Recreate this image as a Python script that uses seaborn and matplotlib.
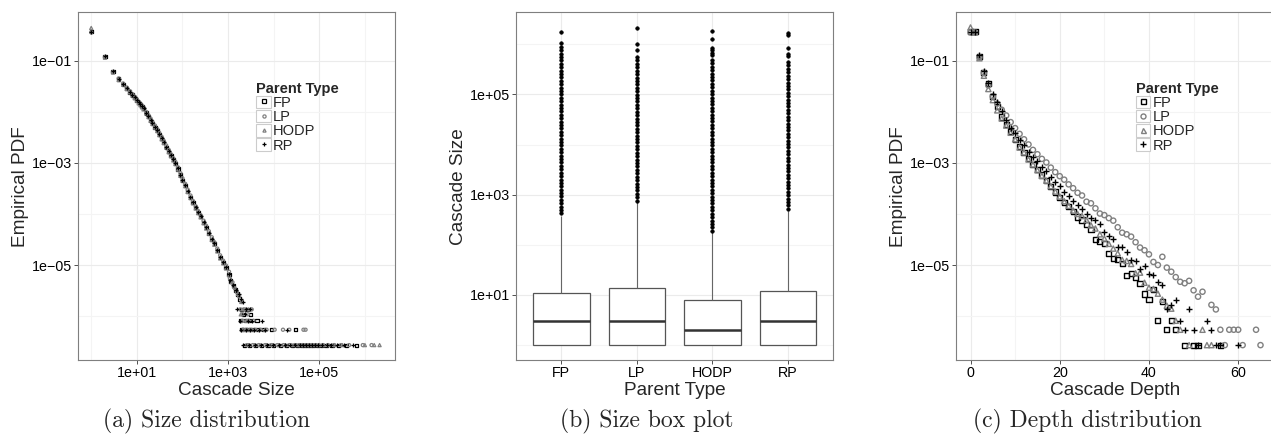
import numpy as np
import pandas as pd
import seaborn as sns
import matplotlib.pyplot as plt
from matplotlib.lines import Line2D
from matplotlib.patches import Rectangle
from matplotlib.legend_handler import HandlerLine2D
from matplotlib.ticker import FixedLocator, FuncFormatter, NullFormatter

parent_types = ["FP", "LP", "HODP", "RP"]
n_cascades = 3.7e6

# ---------------- (a) size distribution ----------------
size_body = [1, 2, 3, 4, 5, 6, 7, 8, 9, 10, 11, 12, 13, 14, 16, 18, 20, 22, 25, 28,
             31, 35, 39, 44, 50, 56, 63, 70, 80, 90, 100, 115, 130, 150, 170, 195, 220, 250,
             290, 330, 380, 440, 500, 580, 670, 780, 900, 1050]
fp_size_pdf = [3.7e-1, 1.23e-1, 6.2e-2, 4.4e-2, 3.5e-2, 2.9e-2, 2.45e-2, 2.14e-2, 1.9e-2, 1.7e-2,
               1.5e-2, 1.38e-2, 1.26e-2, 1.15e-2, 9.5e-3, 8.1e-3, 6.9e-3, 6.0e-3, 5.0e-3, 4.3e-3,
               3.6e-3, 3.0e-3, 2.5e-3, 2.04e-3, 1.66e-3, 1.38e-3, 1.15e-3, 9.8e-4, 7.6e-4, 5.8e-4,
               4.6e-4, 3.6e-4, 2.8e-4, 2.1e-4, 1.66e-4, 1.32e-4, 1.07e-4, 8.9e-5, 6.8e-5, 5.4e-5,
               4.2e-5, 3.2e-5, 2.6e-5, 1.9e-5, 1.4e-5, 1.12e-5, 8.9e-6, 6.6e-6]
lp_size_pdf = [3.6e-1, 1.18e-1, 6.0e-2, 4.5e-2, 3.6e-2, 3.0e-2, 2.55e-2, 2.22e-2, 1.97e-2, 1.77e-2,
               1.58e-2, 1.45e-2, 1.32e-2, 1.21e-2, 1.0e-2, 8.6e-3, 7.4e-3, 6.4e-3, 5.4e-3, 4.6e-3,
               3.9e-3, 3.25e-3, 2.7e-3, 2.2e-3, 1.8e-3, 1.48e-3, 1.23e-3, 1.05e-3, 8.2e-4, 6.3e-4,
               5.0e-4, 3.9e-4, 3.0e-4, 2.3e-4, 1.8e-4, 1.42e-4, 1.15e-4, 9.5e-5, 7.4e-5, 5.9e-5,
               4.6e-5, 3.5e-5, 2.8e-5, 2.1e-5, 1.55e-5, 1.22e-5, 9.8e-6, 7.4e-6]
hodp_size_pdf = [4.4e-1, 1.15e-1, 5.9e-2, 4.2e-2, 3.4e-2, 2.8e-2, 2.4e-2, 2.08e-2, 1.85e-2, 1.66e-2,
                 1.47e-2, 1.35e-2, 1.23e-2, 1.12e-2, 9.3e-3, 7.9e-3, 6.7e-3, 5.8e-3, 4.9e-3, 4.2e-3,
                 3.5e-3, 2.9e-3, 2.45e-3, 2.0e-3, 1.62e-3, 1.35e-3, 1.12e-3, 9.5e-4, 7.4e-4, 5.6e-4,
                 4.5e-4, 3.5e-4, 2.7e-4, 2.05e-4, 1.62e-4, 1.28e-4, 1.04e-4, 8.6e-5, 6.6e-5, 5.2e-5,
                 4.1e-5, 3.1e-5, 2.5e-5, 1.85e-5, 1.35e-5, 1.08e-5, 8.6e-6, 6.3e-6]
rp_size_pdf = [3.6e-1, 1.25e-1, 6.3e-2, 4.45e-2, 3.55e-2, 2.95e-2, 2.5e-2, 2.17e-2, 1.93e-2, 1.72e-2,
               1.53e-2, 1.4e-2, 1.28e-2, 1.17e-2, 9.7e-3, 8.3e-3, 7.0e-3, 6.1e-3, 5.1e-3, 4.4e-3,
               3.7e-3, 3.1e-3, 2.55e-3, 2.08e-3, 1.7e-3, 1.4e-3, 1.17e-3, 1.0e-3, 7.8e-4, 5.9e-4,
               4.7e-4, 3.7e-4, 2.85e-4, 2.15e-4, 1.7e-4, 1.35e-4, 1.09e-4, 9.1e-5, 7.0e-5, 5.5e-5,
               4.3e-5, 3.3e-5, 2.65e-5, 1.95e-5, 1.45e-5, 1.15e-5, 9.1e-6, 6.8e-6]

# sparse tail: cascade sizes seen only a handful of times (counts out of n_cascades)
fp_tail_size = [1150, 1300, 1450, 1600, 1800, 2000, 2600, 2200, 3100, 1900, 2400, 3000, 4300,
                1950, 2300, 2800, 3500, 4500, 6000, 9000, 30000,
                2300, 3000, 4000, 5500, 7500, 10000, 14000, 19000, 26000, 33000, 40000, 48000,
                56000, 65000, 76000, 90000, 110000, 140000, 190000, 260000, 400000, 650000]
fp_tail_count = [18, 15, 12, 10, 8, 5, 5, 4, 4, 3, 3, 3, 3,
                 2, 2, 2, 2, 2, 2, 2, 2,
                 1, 1, 1, 1, 1, 1, 1, 1, 1, 1, 1, 1, 1, 1, 1, 1, 1, 1, 1, 1, 1, 1]
lp_tail_size = [1100, 1250, 1400, 1550, 1750, 2000, 1850, 2300, 3300, 2050, 2700, 2100, 2800, 3600,
                2150, 2600, 3200, 4000, 5200, 7000, 10500, 16000, 22000, 45000, 50000,
                2600, 3500, 4700, 6500, 8800, 12000, 16500, 22000, 29000, 36000, 43000, 51000,
                60000, 70000, 82000, 98000, 120000, 155000, 210000, 300000, 450000, 900000, 1400000]
lp_tail_count = [20, 17, 13, 11, 9, 7, 5, 5, 5, 4, 4, 3, 3, 3,
                 2, 2, 2, 2, 2, 2, 2, 2, 2, 2, 2,
                 1, 1, 1, 1, 1, 1, 1, 1, 1, 1, 1, 1, 1, 1, 1, 1, 1, 1, 1, 1, 1, 1, 1]
hodp_tail_size = [1200, 1350, 1650, 1950, 2150, 2800, 1900, 2000, 2500,
                  2050, 2450, 3000, 3800, 5000, 6500,
                  2800, 3800, 5000, 7000, 9500, 13000, 18000, 25000, 32000, 39000, 46000, 54000,
                  62000, 72000, 86000, 100000, 125000, 160000, 220000, 320000, 1000000, 1600000, 2100000]
hodp_tail_count = [17, 14, 10, 7, 5, 5, 4, 3, 3,
                   2, 2, 2, 2, 2, 2,
                   1, 1, 1, 1, 1, 1, 1, 1, 1, 1, 1, 1, 1, 1, 1, 1, 1, 1, 1, 1, 1, 1, 1]
rp_tail_size = [1100, 1300, 1500, 1700, 1900, 2100, 1550, 2500, 3000, 2400, 1850, 2700, 3400, 5500,
                1900, 2500, 3100, 3700, 4800, 6500, 20000,
                2100, 2900, 3900, 5200, 7000, 9500, 13000, 17500, 23000, 30000, 37000, 44000,
                52000, 60000, 70000, 80000, 95000, 115000, 145000, 180000, 240000, 350000, 550000]
rp_tail_count = [19, 15, 12, 10, 8, 7, 5, 5, 5, 4, 3, 3, 3, 3,
                 2, 2, 2, 2, 2, 2, 2,
                 1, 1, 1, 1, 1, 1, 1, 1, 1, 1, 1, 1, 1, 1, 1, 1, 1, 1, 1, 1, 1, 1, 1]

# ---------------- (b) size box plot ----------------
# bulk of each group as a frequency table, plus the outlying cascade sizes
fp_box_values = [1, 2, 3, 5, 8, 11, 30, 100, 376]
fp_box_counts = [150, 30, 40, 40, 30, 24, 20, 12, 2]
lp_box_values = [1, 2, 3, 5, 8, 14, 40, 150, 700]
lp_box_counts = [150, 30, 40, 40, 30, 24, 20, 18, 2]
hodp_box_values = [1, 2, 3, 5, 8, 25, 80, 176]
hodp_box_counts = [150, 60, 30, 50, 24, 20, 7, 2]
rp_box_values = [1, 2, 3, 5, 8, 12, 35, 120, 480]
rp_box_counts = [150, 30, 40, 40, 30, 24, 20, 15, 2]

fp_outliers = [430, 500, 580, 680, 790, 920, 1080, 1260, 1470, 1720, 2000, 2350, 2750, 3200, 3750,
               4400, 5100, 6000, 7000, 8200, 9600, 11200, 13100, 15300, 17900, 21000, 24500, 28700,
               33500, 39200, 45800, 53600, 62700, 73300, 85700, 100200, 117000, 137000, 160000,
               187000, 219000, 256000, 300000, 351000, 410000, 480000, 561000, 656000, 767000,
               897000, 1050000, 1740000]
lp_outliers = [760, 890, 1040, 1220, 1430, 1670, 1960, 2290, 2680, 3140, 3670, 4300, 5030, 5890,
               6890, 8060, 9430, 11000, 12900, 15100, 17700, 20700, 24200, 28300, 33100, 38800,
               45400, 53100, 62100, 72700, 85000, 99500, 116000, 136000, 159000, 186000, 218000,
               255000, 299000, 350000, 410000, 480000, 550000, 760000, 1020000, 2100000]
hodp_outliers = [190, 222, 260, 304, 356, 416, 487, 570, 667, 780, 913, 1070, 1250, 1460, 1710,
                 2000, 2340, 2740, 3210, 3750, 4390, 5140, 6010, 7030, 8230, 9630, 11300, 13200,
                 15400, 18000, 21100, 24700, 28900, 33800, 39600, 46300, 54200, 63400, 74200,
                 86800, 102000, 119000, 139000, 163000, 191000, 223000, 261000, 305000, 357000,
                 418000, 489000, 600000, 660000, 760000, 850000, 1300000, 1860000]
rp_outliers = [520, 610, 710, 830, 970, 1140, 1330, 1560, 1820, 2130, 2490, 2920, 3410, 3990, 4670,
               5470, 6400, 7490, 8760, 10200, 12000, 14000, 16400, 19200, 22500, 26300, 30800,
               36000, 42100, 49300, 57700, 67500, 79000, 92400, 108000, 126000, 148000, 173000,
               203000, 237000, 277000, 325000, 380000, 440000, 580000, 650000, 850000, 1550000,
               1700000]

# ---------------- (c) depth distribution ----------------
fp_depth = [0, 1, 2, 3, 4, 5, 6, 7, 8, 9, 10, 11, 12, 13, 14, 15, 16, 17, 18, 19, 20, 21, 22, 23,
            24, 25, 26, 27, 28, 29, 30, 31, 32, 33, 34, 35, 36, 37, 38, 39, 40, 41, 42, 43, 44,
            45, 46, 48, 50, 51, 56]
fp_depth_pdf = [3.7e-1, 3.7e-1, 1.2e-1, 6.0e-2, 3.6e-2, 2.0e-2, 1.26e-2, 7.9e-3, 5.6e-3, 4.1e-3,
                2.9e-3, 2.1e-3, 1.6e-3, 1.2e-3, 9.3e-4, 7.4e-4, 5.8e-4, 4.6e-4, 3.4e-4, 2.7e-4,
                2.1e-4, 1.7e-4, 1.4e-4, 1.1e-4, 8.7e-5, 7.6e-5, 6.3e-5, 4.9e-5, 3.2e-5, 2.9e-5,
                2.6e-5, 1.7e-5, 1.32e-5, 1.29e-5, 1.07e-5, 6.2e-6, 6.9e-6, 5.6e-6, 4.4e-6, 2.7e-6,
                2.1e-6, 3.3e-6, 8.1e-7, 1.9e-6, 5.4e-7, 8.1e-7, 5.4e-7, 2.7e-7, 2.7e-7, 2.7e-7, 2.7e-7]
lp_depth = [0, 1, 2, 3, 4, 5, 6, 7, 8, 9, 10, 11, 12, 13, 14, 15, 16, 17, 18, 19, 20, 21, 22, 23,
            24, 25, 26, 27, 28, 29, 30, 31, 32, 33, 34, 35, 36, 37, 38, 39, 40, 41, 42, 43, 44,
            45, 46, 47, 48, 49, 50, 51, 52, 54, 55, 56, 57, 58, 59, 60, 61, 64, 65]
lp_depth_pdf = [3.6e-1, 3.6e-1, 1.17e-1, 5.8e-2, 3.3e-2, 2.0e-2, 1.45e-2, 1.1e-2, 8.5e-3, 6.3e-3,
                4.8e-3, 3.7e-3, 2.9e-3, 2.3e-3, 1.8e-3, 1.48e-3, 1.2e-3, 1.02e-3, 8.1e-4, 6.6e-4,
                5.5e-4, 4.7e-4, 3.8e-4, 3.2e-4, 2.6e-4, 2.3e-4, 1.74e-4, 1.62e-4, 1.29e-4, 1.02e-4,
                9.5e-5, 8.3e-5, 7.4e-5, 5.5e-5, 4.3e-5, 4.0e-5, 3.6e-5, 2.8e-5, 2.2e-5, 1.95e-5,
                1.62e-5, 1.15e-5, 1.0e-5, 1.45e-5, 8.9e-6, 7.4e-6, 5.8e-6, 4.7e-6, 4.4e-6, 4.9e-6,
                3.2e-6, 2.4e-6, 3.0e-6, 1.66e-6, 1.35e-6, 5.4e-7, 2.7e-7, 5.4e-7, 5.4e-7, 5.4e-7,
                2.7e-7, 5.4e-7, 2.7e-7]
hodp_depth = [0, 1, 2, 3, 4, 5, 6, 7, 8, 9, 10, 11, 12, 13, 14, 15, 16, 17, 18, 19, 20, 21, 22, 23,
              24, 25, 26, 27, 28, 29, 30, 31, 32, 33, 34, 35, 36, 37, 38, 39, 40, 41, 42, 43, 44,
              45, 46, 47, 49, 52, 53, 54]
hodp_depth_pdf = [4.5e-1, 3.6e-1, 1.12e-1, 5.1e-2, 2.8e-2, 1.7e-2, 1.07e-2, 7.4e-3, 5.4e-3, 3.9e-3,
                  2.9e-3, 2.0e-3, 1.6e-3, 1.17e-3, 9.3e-4, 7.2e-4, 5.6e-4, 4.5e-4, 3.5e-4, 2.75e-4,
                  2.2e-4, 1.78e-4, 1.45e-4, 1.17e-4, 1.0e-4, 9.1e-5, 7.6e-5, 6.0e-5, 5.2e-5, 4.0e-5,
                  3.3e-5, 2.6e-5, 2.1e-5, 1.7e-5, 1.26e-5, 1.2e-5, 1.05e-5, 6.9e-6, 7.1e-6, 4.5e-6,
                  3.6e-6, 3.4e-6, 2.75e-6, 2.1e-6, 1.6e-6, 1.4e-6, 8.1e-7, 5.4e-7, 2.7e-7, 5.4e-7,
                  2.7e-7, 2.7e-7]
rp_depth = [0, 1, 2, 3, 4, 5, 6, 7, 8, 9, 10, 11, 12, 13, 14, 15, 16, 17, 18, 19, 20, 21, 22, 23,
            24, 25, 26, 27, 28, 29, 30, 31, 32, 33, 34, 35, 36, 37, 38, 39, 40, 41, 42, 43, 44,
            45, 46, 47, 48, 49, 50, 51, 53, 54, 55, 56, 60]
rp_depth_pdf = [3.6e-1, 3.6e-1, 1.32e-1, 6.3e-2, 3.6e-2, 2.2e-2, 1.55e-2, 1.02e-2, 6.9e-3, 4.9e-3,
                3.8e-3, 2.8e-3, 2.2e-3, 1.66e-3, 1.32e-3, 1.07e-3, 8.5e-4, 6.8e-4, 5.2e-4, 4.3e-4,
                3.5e-4, 2.75e-4, 2.2e-4, 1.8e-4, 1.5e-4, 1.23e-4, 1.02e-4, 8.3e-5, 7.6e-5, 6.3e-5,
                4.5e-5, 3.7e-5, 3.3e-5, 2.3e-5, 2.3e-5, 1.78e-5, 1.26e-5, 1.2e-5, 8.5e-6, 9.5e-6,
                6.6e-6, 6.3e-6, 4.7e-6, 4.1e-6, 1.35e-6, 1.66e-6, 2.1e-6, 8.1e-7, 5.4e-7, 1.35e-6,
                5.4e-7, 2.7e-7, 8.1e-7, 5.4e-7, 2.7e-7, 2.7e-7, 2.7e-7]

marker_of = {"FP": "s", "LP": "o", "HODP": "^", "RP": "+"}
color_of = {"FP": "black", "LP": "#808080", "HODP": "#808080", "RP": "black"}

sns.set_theme(style="whitegrid")
plt.rcParams["font.family"] = ["Liberation Sans", "DejaVu Sans"]

W, H = 1271, 437
fig = plt.figure(figsize=(W / 100, H / 100), dpi=100)
ax_top, ax_bot = 12.3, 360.0


def px_axes(left, width):
    return fig.add_axes([left / W, 1 - ax_bot / H, width / W, (ax_bot - ax_top) / H])


ax_a = px_axes(78, 317)
ax_b = px_axes(516, 317.3)
ax_c = px_axes(956, 319)


class KeyBoxHandler(HandlerLine2D):
    # legend key with a light frame, like ggplot's legend keys
    def create_artists(self, legend, orig_handle, xdescent, ydescent, width, height, fontsize, trans):
        frame = Rectangle((-xdescent, -ydescent), width, height, facecolor="white",
                          edgecolor="#CCCCCC", linewidth=0.8, transform=trans)
        marks = super().create_artists(legend, orig_handle, xdescent, ydescent,
                                       width, height, fontsize, trans)
        return [frame] + list(marks)


def draw_points(ax, x, y, kind, size, lw):
    if marker_of[kind] == "+":
        sns.scatterplot(x=x, y=y, ax=ax, marker="+", color=color_of[kind],
                        s=size * 1.8, linewidth=lw, legend=False)
    else:
        sns.scatterplot(x=x, y=y, ax=ax, marker=marker_of[kind], facecolor="none",
                        edgecolor=color_of[kind], s=size, linewidth=lw, legend=False)


def add_legend(ax, msize, lw):
    handles = []
    for kind in parent_types:
        if marker_of[kind] == "+":
            handles.append(Line2D([], [], linestyle="none", marker="+", color=color_of[kind],
                                  markersize=msize * 1.35, markeredgewidth=lw))
        else:
            handles.append(Line2D([], [], linestyle="none", marker=marker_of[kind],
                                  markerfacecolor="none", markeredgecolor=color_of[kind],
                                  markersize=msize, markeredgewidth=lw))
    ax.legend(handles, parent_types, title="Parent Type",
              handler_map={Line2D: KeyBoxHandler(numpoints=1)},
              loc="upper left", bbox_to_anchor=(0.563, 0.80), frameon=False,
              borderpad=0, borderaxespad=0, handlelength=1.0, handleheight=0.93,
              handletextpad=0.15, labelspacing=0.0, fontsize=10.5, alignment="left",
              title_fontproperties={"weight": "bold", "size": 10.5})


def sci_label(v, pos):
    return f"{v:.0e}".replace("-", "\u2212")


def style_axes(ax):
    ax.set_facecolor("white")
    ax.set_axisbelow(True)
    for sp in ax.spines.values():
        sp.set_color("#7F7F7F")
        sp.set_linewidth(0.8)
    ax.grid(which="major", color="#EBEBEB", linewidth=0.8)
    ax.grid(which="minor", color="#F4F4F4", linewidth=0.8)
    ax.tick_params(which="major", bottom=True, left=True, length=3, width=0.6,
                   color="#333333", labelsize=10.3, pad=1.5, labelcolor="black")
    ax.tick_params(which="minor", bottom=False, left=False, length=0)


def log_axis(axis, major, minor):
    axis.set_major_locator(FixedLocator(major))
    axis.set_minor_locator(FixedLocator(minor))
    axis.set_major_formatter(FuncFormatter(sci_label))
    axis.set_minor_formatter(NullFormatter())


# ---- panel (a)
size_series = [
    ("FP", fp_size_pdf, fp_tail_size, fp_tail_count),
    ("LP", lp_size_pdf, lp_tail_size, lp_tail_count),
    ("HODP", hodp_size_pdf, hodp_tail_size, hodp_tail_count),
    ("RP", rp_size_pdf, rp_tail_size, rp_tail_count),
]
for kind, body_pdf, t_size, t_count in size_series:
    xs = np.concatenate([size_body, t_size])
    ys = np.concatenate([body_pdf, np.array(t_count) / n_cascades])
    draw_points(ax_a, xs, ys, kind, 5, 0.9)
ax_a.set_xscale("log")
ax_a.set_yscale("log")
ax_a.set_xlim(10 ** -0.29, 10 ** 6.66)
ax_a.set_ylim(10 ** -6.86, 10 ** -0.05)
log_axis(ax_a.xaxis, [1e1, 1e3, 1e5], [1e0, 1e2, 1e4, 1e6])
log_axis(ax_a.yaxis, [1e-5, 1e-3, 1e-1], [1e-6, 1e-4, 1e-2])
style_axes(ax_a)
ax_a.set_xlabel("Cascade Size", fontsize=13.7, labelpad=1)
ax_a.set_ylabel("Empirical PDF", fontsize=13.7, labelpad=2)
add_legend(ax_a, 2.3, 0.9)

# ---- panel (b)
box_groups = [
    ("FP", fp_box_values, fp_box_counts, fp_outliers),
    ("LP", lp_box_values, lp_box_counts, lp_outliers),
    ("HODP", hodp_box_values, hodp_box_counts, hodp_outliers),
    ("RP", rp_box_values, rp_box_counts, rp_outliers),
]
frames = []
for kind, vals, counts, outl in box_groups:
    sizes = np.concatenate([np.repeat(vals, counts), outl]).astype(float)
    frames.append(pd.DataFrame({"Parent Type": kind, "Cascade Size": sizes}))
box_df = pd.concat(frames, ignore_index=True)

sns.boxplot(data=box_df, x="Parent Type", y="Cascade Size", order=parent_types,
            log_scale=True, color="white", linecolor="#555555", linewidth=0.9,
            width=0.75, fliersize=2.6, capwidths=0,
            flierprops={"marker": "o", "markerfacecolor": "black", "markeredgecolor": "black",
                        "markeredgewidth": 0.4},
            whiskerprops={"color": "#666666", "linewidth": 0.8},
            medianprops={"color": "#333333", "linewidth": 1.8}, ax=ax_b)
ax_b.set_xlim(-0.6, 3.6)
ax_b.set_ylim(10 ** -0.3, 10 ** 6.64)
log_axis(ax_b.yaxis, [1e1, 1e3, 1e5], [1e0, 1e2, 1e4, 1e6])
style_axes(ax_b)
ax_b.set_xlabel("Parent Type", fontsize=13.7, labelpad=1)
ax_b.set_ylabel("Cascade Size", fontsize=13.7, labelpad=2)

# ---- panel (c)
depth_series = [
    ("FP", fp_depth, fp_depth_pdf),
    ("LP", lp_depth, lp_depth_pdf),
    ("HODP", hodp_depth, hodp_depth_pdf),
    ("RP", rp_depth, rp_depth_pdf),
]
for kind, d, p in depth_series:
    draw_points(ax_c, d, p, kind, 14, 1.0)
ax_c.set_yscale("log")
ax_c.set_xlim(-3.25, 68.25)
ax_c.set_ylim(10 ** -6.86, 10 ** -0.05)
ax_c.xaxis.set_major_locator(FixedLocator([0, 20, 40, 60]))
ax_c.xaxis.set_minor_locator(FixedLocator([10, 30, 50]))
log_axis(ax_c.yaxis, [1e-5, 1e-3, 1e-1], [1e-6, 1e-4, 1e-2])
style_axes(ax_c)
ax_c.set_xlabel("Cascade Depth", fontsize=13.7, labelpad=1)
ax_c.set_ylabel("Empirical PDF", fontsize=13.7, labelpad=2)
add_legend(ax_c, 3.6, 1.0)

# captions
for cx, text in [(207, "(a) Size distribution"), (647, "(b) Size box plot"),
                 (1087, "(c) Depth distribution")]:
    fig.text(cx / W, 0.022, text, family="cmr10", fontsize=17, ha="center", va="baseline")

fig.savefig("out.png", dpi=100)
